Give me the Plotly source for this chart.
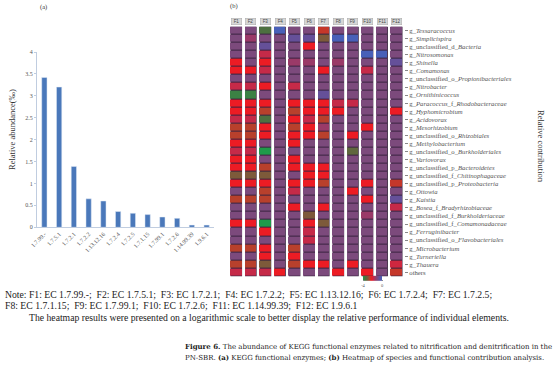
import plotly.graph_objects as go

W, H = 554, 379

# ---------------- (a) KEGG functional enzymes ----------------
enzymes = ["1.7.99.-", "1.7.5.1", "1.7.2.1", "1.7.2.2", "1.13.12.16", "1.7.2.4",
           "1.7.2.5", "1.7.1.15", "1.7.99.1", "1.7.2.6", "1.14.99.39", "1.9.6.1"]
abundance = [3.42, 3.20, 1.39, 0.65, 0.60, 0.36, 0.32, 0.29, 0.235, 0.205, 0.05, 0.05]
abund_ticks = [0, 0.5, 1, 1.5, 2, 2.5, 3, 3.5, 4]
abund_ticktext = ["0", "0.5", "1", "1.5", "2", "2.5", "3", "3.5", "4"]

# ---------------- (b) heatmap ----------------
functions = ["F1", "F2", "F3", "F4", "F5", "F6", "F7", "F8", "F9", "F10", "F11", "F12"]
taxa = [
    "g_<i>Tessaracoccus</i>", "g_<i>Simplicispira</i>", "g_unclassified_d_<i>Bacteria</i>",
    "g_<i>Nitrosomonas</i>", "g_<i>Shinella</i>", "g_<i>Comamonas</i>",
    "g_unclassified_o_<i>Propionibacteriales</i>", "g_<i>Nitrobacter</i>", "g_<i>Ornithinicoccus</i>",
    "g_<i>Paracoccus</i>_f_<i>Rhodobacteraceae</i>", "g_<i>Hyphomicrobium</i>", "g_<i>Acidovorax</i>",
    "g_<i>Mesorhizobium</i>", "g_unclassified_o_<i>Rhizobiales</i>", "g_<i>Methylobacterium</i>",
    "g_unclassified_o_<i>Burkholderiales</i>", "g_<i>Variovorax</i>", "g_unclassified_p_<i>Bacteroidetes</i>",
    "g_unclassified_f_<i>Chitinophagaceae</i>", "g_unclassified_p_<i>Proteobacteria</i>", "g_<i>Ottowia</i>",
    "g_<i>Kaistia</i>", "g_<i>Bosea</i>_f_<i>Bradyrhizobiaceae</i>", "g_unclassified_f_<i>Burkholderiaceae</i>",
    "g_unclassified_f_<i>Comamonadaceae</i>", "g_<i>Ferruginibacter</i>", "g_unclassified_o_<i>Flavobacteriales</i>",
    "g_<i>Microbacterium</i>", "g_<i>Turneriella</i>", "g_<i>Thauera</i>", "others",
]
# log-scaled contribution per function (column), one value per taxon (top to bottom)
F1 = [-1, -1, -1, -1, -2.2, -2.2, -1, -1.8, -3.7, -2.2, -2.2, -1.8, -2.6, -2.6, -2.2, -1.8,
      -2.2, -2.2, -3, -2.2, -1, -2.6, -1, -1, -2.2, -1, -1, -2.6, -1, -2.6, -1.8]
F2 = [-1, -1.4, -1, -1, -1, -2.2, -1, -1.8, -3.7, -2.2, -2.2, -1.8, -2.6, -2.6, -2.2, -1.8,
      -2.2, -2.2, -3, -2.2, -1, -2.6, -1, -1, -2.2, -1, -1, -2.6, -1, -2.6, -1.8]
F3 = [-3.5, -1, -0.6, -1.8, -2.2, -1.8, -1, -2.2, -1, -2.2, -2.6, -3.5, -2.2, -2.2, -1, -4,
      -1, -2.6, -3, -2.2, -2.6, -2.6, -1, -1, -4, -2.2, -1, -2.2, -2.2, -3, -1.8]
F4 = [0, -1, -1, -1, -1, -1, -1, -1, -1, -1, -1, -1, -1, -1, -1, -1,
      -1, -1, -1, -1, -1, -1, -1, -1, -1, -1, -1, -1, -1, -1, -2.2]
F5 = [-1, -0.6, -1, -1, -1.4, -1, -1, -1.8, -1, -2.2, -2.6, -2.2, -2.6, -2.2, -2.2, -1,
      -2.2, -2.2, -1, -2.2, -1.8, -1, -2.2, -1, -1, -1, -1, -2.6, -2.2, -2.6, -1]
F6 = [-1, -0.6, -2.2, -1, -1.4, -1, -1, -1, -1, -2.2, -2.2, -1.8, -2.2, -2.2, -1, -1,
      -1, -2.2, -2.2, -2.2, -1, -1, -1, -3, -2.2, -1.8, -1.8, -1, -1, -2.2, -1]
F7 = [-2.5, -3, -1, -1, -1, -2.2, -1, -1, -0.6, -2.2, -2.2, -2.6, -1.4, -2.6, -1, -1,
      -1, -2.2, -2.2, -2.6, -1, -1, -2.2, -1, -3, -1, -1, -1, -1, -2.2, -1]
F8 = [-1, 0, -1, -1, -1.4, -1, -1, -1, -1, -1.8, -2.2, -1, -1, -1, -1, -1,
      -1, -1, -1, -1, -1, -1, -1, -1, -1, -1, -1, -1, -1, -1, -2.2]
F9 = [-1, 0, -1, -1, -1, -1, -1, -1, -1, -1.8, -1, -1, -1, -2.2, -1, -3.3,
      -1, -1, -1, -1, -2.2, -1, -1, -1, -1, -1, -1, -1, -1, -2.2, -1]
F10 = [-1, -1, -1, 0, -1, -1.8, -1, -1, -1, -1, -1, -1, -2.2, -1, -1, -1,
       -1, -1, -1, -2.2, -1, -2.2, -1, -1.4, -1, -1, -1, -1, -1, -1, -2.2]
F11 = [-1, -1, -1, 0, -1, -1, -1, -1, -1, -1, -1, -1, -1, -1, -1, -1,
       -1, -1, -1, -1, -1, -1, -1, -1, -1, -1, -1, -1, -1, -1, -1]
F12 = [-1, -1, -1, -1, -0.6, -1, -1, -1, -1, -1, -2.2, -1, -1, -1, -1, -1,
       -1, -1, -1, -2.5, -1, -0.6, -1.8, -1, -1, -1, -1, -1, -1, -1.9, -2.5]
columns = [F1, F2, F3, F4, F5, F6, F7, F8, F9, F10, F11, F12]
z = [list(r) for r in zip(*columns)]

note_lines = [
    "Note: F1: EC 1.7.99.-;  F2: EC 1.7.5.1;  F3: EC 1.7.2.1;  F4: EC 1.7.2.2;  F5: EC 1.13.12.16;  F6: EC 1.7.2.4;  F7: EC 1.7.2.5;",
    "F8: EC 1.7.1.15;  F9: EC 1.7.99.1;  F10: EC 1.7.2.6;  F11: EC 1.14.99.39;  F12: EC 1.9.6.1",
    "The heatmap results were presented on a logarithmic scale to better display the relative performance of individual elements.",
]
caption_lines = [
    "<b>Figure 6.</b> The abundance of KEGG functional enzymes related to nitrification and denitrification in the",
    "PN-SBR. <b>(a)</b> KEGG functional enzymes; <b>(b)</b> Heatmap of species and functional contribution analysis.",
]

colorscale = [
    [0.0, "#1f9a4a"], [0.125, "#4d7040"], [0.25, "#7d5a3a"], [0.35, "#b8402c"],
    [0.45, "#ec1c24"], [0.55, "#c52a48"], [0.65, "#9a3a68"], [0.75, "#7c4a7c"],
    [0.875, "#5f52a0"], [1.0, "#4860b8"],
]

SERIF = "Liberation Serif"

def px(x):
    return x / W

def py(y):
    return 1 - y / H

fig = go.Figure()

fig.add_trace(go.Bar(
    x=enzymes, y=abundance, marker_color="#4a78ba", width=0.36,
    xaxis="x", yaxis="y", showlegend=False,
))

fig.add_trace(go.Heatmap(
    z=z, x=list(range(len(functions))), y=list(range(len(taxa))),
    zmin=-4, zmax=0, colorscale=colorscale, xgap=3, ygap=1,
    xaxis="x2", yaxis="y2",
    colorbar=dict(
        orientation="h", lenmode="pixels", len=19, thickness=5,
        x=px(372.5), xanchor="center", y=py(281.5), yanchor="middle",
        xpad=0, ypad=0, outlinewidth=0,
        tickvals=[-4, 0], ticktext=["-4", "0"], ticks="outside", ticklen=1,
        tickcolor="#888", tickfont=dict(size=4.5, color="#555", family=SERIF),
    ),
))

# dark row separators inside each column
shapes = []
for i in range(len(functions)):
    shapes.append(dict(type="rect", xref="x2", yref="y2", x0=i - 0.397, x1=i + 0.397,
                       y0=-0.5, y1=len(taxa) - 0.5, fillcolor="#3a2440",
                       line=dict(width=0), layer="below"))

annotations = []
for i, f in enumerate(functions):
    annotations.append(dict(x=i, y=py(21.2), xref="x2", yref="paper", text=f,
                            showarrow=False, font=dict(size=4.5, color="#444", family="Liberation Sans"),
                            bgcolor="#d6d6d6", bordercolor="#a8a8a8", borderwidth=0.5,
                            width=10, height=6, borderpad=0, xanchor="center", yanchor="middle"))

annotations += [
    dict(x=px(43), y=py(7), xref="paper", yref="paper", text="(a)", showarrow=False,
         font=dict(size=6.5, family=SERIF, color="#333"), xanchor="center", yanchor="middle"),
    dict(x=px(234), y=py(6.5), xref="paper", yref="paper", text="(b)", showarrow=False,
         font=dict(size=6.5, family=SERIF, color="#333"), xanchor="center", yanchor="middle"),
    dict(x=px(12), y=py(130), xref="paper", yref="paper", text="Relative abundance(‰)",
         showarrow=False, textangle=-90, font=dict(size=8.5, family=SERIF, color="#333"),
         xanchor="center", yanchor="middle"),
    dict(x=px(541), y=py(146), xref="paper", yref="paper", text="Relative contribution",
         showarrow=False, textangle=90, font=dict(size=8.5, family=SERIF, color="#333"),
         xanchor="center", yanchor="middle"),
]
note_pos = [(3, 294), (3, 305.5), (27, 317)]
for (xx, yy), t in zip(note_pos, note_lines):
    annotations.append(dict(x=px(xx), y=py(yy), xref="paper", yref="paper", text=t,
                            showarrow=False, font=dict(size=9.7, family=SERIF, color="#222"),
                            xanchor="left", yanchor="middle"))
cap_pos = [(183, 346), (183, 357.5)]
for (xx, yy), t in zip(cap_pos, caption_lines):
    annotations.append(dict(x=px(xx), y=py(yy), xref="paper", yref="paper", text=t,
                            showarrow=False, font=dict(size=7.0, family="DejaVu Serif", color="#222"),
                            xanchor="left", yanchor="middle"))

fig.update_layout(
    width=W, height=H, margin=dict(l=0, r=0, t=0, b=0, pad=0, autoexpand=False),
    paper_bgcolor="white", plot_bgcolor="white",
    font=dict(family=SERIF, color="#555"),
    xaxis=dict(domain=[px(37), px(214)], type="category", tickangle=-45,
               tickfont=dict(size=6, family=SERIF, color="#555"), showline=True,
               linecolor="#c0cde0", linewidth=1, ticks="", showgrid=False, zeroline=False,
               automargin=False),
    yaxis=dict(domain=[py(227.3), py(52)], range=[0, 4], tickvals=abund_ticks,
               ticktext=abund_ticktext, tickfont=dict(size=6, family=SERIF, color="#555"),
               showline=True, linecolor="#c0cde0", linewidth=1, ticks="outside",
               ticklen=2, tickcolor="#c0cde0", showgrid=False, zeroline=False,
               automargin=False),
    xaxis2=dict(domain=[px(229), px(404)], range=[-0.5, len(functions) - 0.5],
                showticklabels=False, ticks="", showgrid=False, zeroline=False, showline=False,
                automargin=False),
    yaxis2=dict(domain=[py(276.4), py(26.6)], range=[len(taxa) - 0.5, -0.5], side="right",
                anchor="x2", tickvals=list(range(len(taxa))), ticktext=taxa,
                tickfont=dict(size=6.7, family=SERIF, color="#555"), ticks="outside",
                ticklen=3, tickcolor="#888", showgrid=False, zeroline=False, showline=False,
                automargin=False),
    shapes=shapes, annotations=annotations,
)

fig.write_html("out.html", config={"displayModeBar": False},
               post_script="document.body.style.margin='0';document.body.style.overflow='hidden';")
